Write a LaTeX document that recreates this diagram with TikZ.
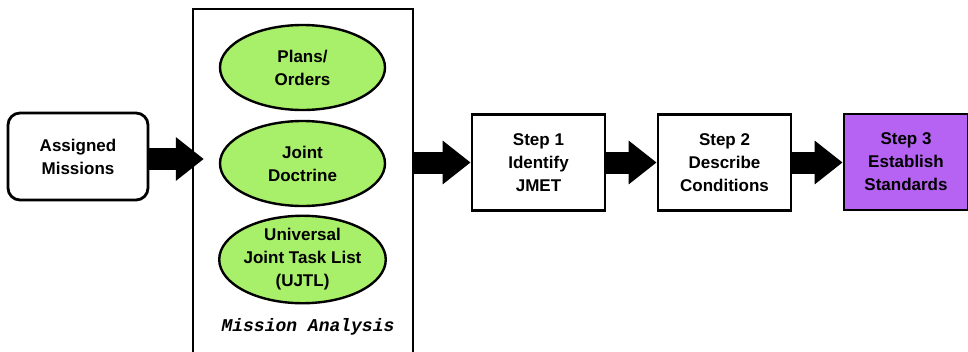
\documentclass[tikz,border=0pt]{standalone}
\usepackage{fontspec}
\setmainfont{Liberation Sans}
\newfontfamily\monoit{Liberation Mono}
\usetikzlibrary{arrows.meta,shapes.geometric}
\definecolor{lgreen}{HTML}{A8EF6A}
\definecolor{lpurple}{HTML}{B663F3}
\tikzset{
  lbl/.style={font=\fontsize{17}{23}\selectfont\bfseries, align=center, text=black},
  stepbox/.style={lbl, draw=black, line width=2.8pt, rectangle, fill=white, inner sep=0pt},
  ovalbox/.style={lbl, draw=black, line width=2.4pt, ellipse, fill=lgreen, minimum width=165pt, minimum height=85pt, inner sep=0pt},
  bigarrow/.style={line width=22pt, -{Triangle[width=42pt,length=28pt]}, black},
}
\begin{document}
\begin{tikzpicture}[x=1pt,y=-1pt]
\useasboundingbox (0,0) rectangle (968,351);
\clip (0,0) rectangle (968,351);
\node[stepbox, rounded corners=12pt, minimum width=140pt, minimum height=87pt] (assigned) at (78,156.5) {Assigned\\Missions};
\node[draw=black, line width=2.8pt, rectangle, minimum width=220pt, minimum height=360pt, inner sep=0pt] (mission) at (303,189) {};
\node[ovalbox] (plans) at (302.5,67.5) {Plans/\\Orders};
\node[ovalbox] (doctrine) at (302.5,163.5) {Joint\\Doctrine};
\node[ovalbox] (ujtl) at (302.5,259.5) {Universal\\Joint Task List\\(UJTL)};
\node[font=\monoit\bfseries\itshape\fontsize{18}{20}\selectfont] (analysis) at (308,327) {Mission Analysis};
\node[stepbox, minimum width=133pt, minimum height=96pt] (s1) at (538.5,162.5) {Step 1\\Identify\\JMET};
\node[stepbox, minimum width=133pt, minimum height=96pt] (s2) at (724.5,162.5) {Step 2\\Describe\\Conditions};
\node[stepbox, fill=lpurple, minimum width=124pt, minimum height=96pt] (s3) at (906,162) {Step 3\\Establish\\Standards};
\coordinate (a1tip) at ([yshift=-2.5pt]assigned.east -| doctrine.west);
\draw[bigarrow] ([yshift=-2.5pt]assigned.east) -- ([xshift=-15pt]a1tip);
\draw[bigarrow] (mission.east |- s1.west) -- (s1.west);
\draw[bigarrow] (s1.east) -- (s1.east -| s2.west);
\draw[bigarrow] (s2.east) -- (s2.east -| s3.west);
\end{tikzpicture}
\end{document}
